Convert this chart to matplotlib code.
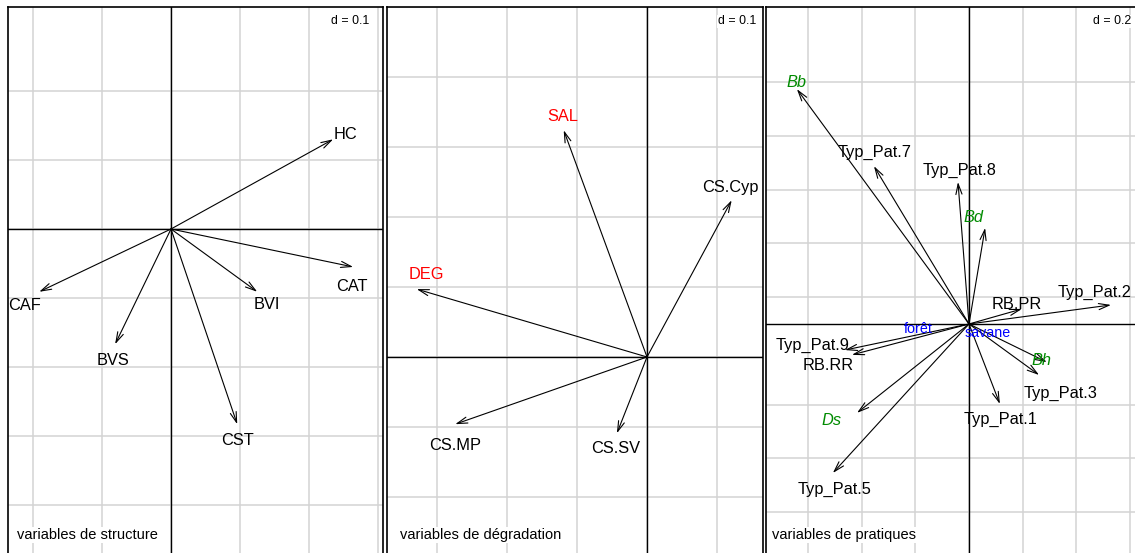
import matplotlib
matplotlib.use('Agg')
import matplotlib.pyplot as plt
import numpy as np

plt.rcParams['font.family'] = ['Liberation Sans', 'DejaVu Sans']

# panel 1 : variables de structure
struct_names = ['HC', 'CAT', 'CAF', 'BVS', 'CST', 'BVI']
struct_x = [0.235, 0.264, -0.191, -0.081, 0.096, 0.125]
struct_y = [0.130, -0.055, -0.091, -0.167, -0.283, -0.091]

# panel 2 : variables de dégradation
degr_names = ['SAL', 'CS.Cyp', 'DEG', 'CS.MP', 'CS.SV']
degr_x = [-0.119, 0.121, -0.329, -0.274, -0.043]
degr_y = [0.324, 0.224, 0.097, -0.096, -0.109]

# panel 3 : variables de pratiques
prat_names = ['Bb', 'Typ_Pat.7', 'Typ_Pat.8', 'Bd', 'Typ_Pat.2', 'RB.PR', 'Bh',
              'Typ_Pat.3', 'Typ_Pat.1', 'Typ_Pat.5', 'Ds', 'Typ_Pat.9', 'RB.RR']
prat_x = [-0.641, -0.354, -0.041, 0.060, 0.529, 0.197, 0.290,
          0.261, 0.115, -0.507, -0.417, -0.462, -0.436]
prat_y = [0.875, 0.588, 0.529, 0.358, 0.071, 0.056, -0.142,
          -0.190, -0.298, -0.555, -0.331, -0.097, -0.115]

# milieu (modalités)
milieu_names = ['forêt', 'savane']
milieu_x = [-0.190, 0.071]
milieu_y = [-0.019, -0.034]

W, H = 1135, 553
fig = plt.figure(figsize=(W / 100, H / 100), dpi=100)

# label offsets in pixels (dx, dy) -- layout only
off1 = {'HC': (12, 5), 'CAT': (-1, -20), 'CAF': (-15, -14), 'BVS': (-2, -16),
        'CST': (0, -16), 'BVI': (10, -13)}
off2 = {'SAL': (-1, 14), 'CS.Cyp': (-1, 13), 'DEG': (10, 15), 'CS.MP': (0, -21),
        'CS.SV': (-1, -15)}
off3 = {'Bb': (0, 7), 'Typ_Pat.7': (1, 14), 'Typ_Pat.8': (2, 12), 'Bd': (-12, 10),
        'Typ_Pat.2': (-16, 13), 'RB.PR': (-5, 4), 'Bh': (-5, 2), 'Typ_Pat.3': (21, -18),
        'Typ_Pat.1': (1, -15), 'Ds': (-25, -8), 'Typ_Pat.5': (2, -16),
        'Typ_Pat.9': (-32, 5), 'RB.RR': (-24, -11)}


def make_panel(left, right, ox, oy, scale, top=6.5):
    """axes placed in pixel coords, data scale = pixels per unit"""
    ax = fig.add_axes([left / W, 0, (right - left) / W, (H - top) / H])
    ax.set_xlim((left - ox) / scale, (right - ox) / scale)
    ax.set_ylim(-(H - oy) / scale, (oy - top) / scale)
    ax.set_xticks([])
    ax.set_yticks([])
    for s in ax.spines.values():
        s.set_linewidth(1.2)
    ax.spines['bottom'].set_visible(False)
    return ax


def draw_grid(ax, xs, ys):
    for v in xs:
        ax.axvline(v, color='#D3D3D3', lw=1.1, zorder=1)
    for h in ys:
        ax.axhline(h, color='#D3D3D3', lw=1.1, zorder=1)
    ax.axhline(0, color='black', lw=1.0, zorder=2)
    ax.axvline(0, color='black', lw=1.0, zorder=2)


def draw_arrows(ax, names, xs, ys, offs, colors=None, italics=()):
    for i, (n, x, y) in enumerate(zip(names, xs, ys)):
        ax.annotate('', xy=(x, y), xytext=(0, 0),
                    arrowprops=dict(arrowstyle='->,head_length=0.75,head_width=0.22',
                                    lw=0.8, color='black', shrinkA=0, shrinkB=0,
                                    mutation_scale=10), zorder=3)
        c = 'black' if colors is None else colors.get(n, 'black')
        ax.annotate(n, xy=(x, y), xytext=offs[n], textcoords='offset pixels',
                    ha='center', va='center', fontsize=11.8, color=c,
                    style='italic' if n in italics else 'normal', zorder=4)


def decorate(ax, d_text, d_right, sub_text, sub_left):
    ax.annotate(d_text, xy=(1, 1), xycoords='axes fraction', xytext=(-d_right, -9),
                textcoords='offset pixels', ha='right', va='top', fontsize=8.9,
                bbox=dict(facecolor='white', edgecolor='none', pad=0.5), zorder=5)
    ax.annotate(sub_text, xy=(0, 0), xycoords='axes fraction', xytext=(sub_left, 18),
                textcoords='offset pixels', ha='left', va='center', fontsize=10.5,
                bbox=dict(facecolor='white', edgecolor='none', pad=0.8), zorder=5)


# panel 1
ax1 = make_panel(8, 383, 171, 229, 690)
draw_grid(ax1, np.arange(-0.2, 0.31, 0.1), np.arange(-0.5, 0.21, 0.1))
draw_arrows(ax1, struct_names, struct_x, struct_y, off1)
decorate(ax1, 'd = 0.1', 14, 'variables de structure', 9)

# panel 2
ax2 = make_panel(387, 763, 647, 357, 700)
draw_grid(ax2, np.arange(-0.3, 0.11, 0.1), np.arange(-0.3, 0.51, 0.1))
draw_arrows(ax2, degr_names, degr_x, degr_y, off2,
            colors={'SAL': '#FF0000', 'DEG': '#FF0000'})
decorate(ax2, 'd = 0.1', 7, 'variables de dégradation', 13)

# panel 3
ax3 = make_panel(766, 1141, 969, 324, 268.5)
draw_grid(ax3, np.arange(-0.6, 0.61, 0.2), [0.9, 0.7, 0.5, 0.3, 0.1, -0.3, -0.5, -0.7])
green = '#008B00'
draw_arrows(ax3, prat_names, prat_x, prat_y, off3,
            colors={'Bb': green, 'Bd': green, 'Bh': green, 'Ds': green},
            italics=('Bb', 'Bd', 'Bh', 'Ds'))
for n, x, y in zip(milieu_names, milieu_x, milieu_y):
    ax3.text(x, y, n, color='#0000FF', fontsize=10.3, ha='center', va='center', zorder=4)
decorate(ax3, 'd = 0.2', 10, 'variables de pratiques', 6)

plt.savefig('out.png', dpi=100)
